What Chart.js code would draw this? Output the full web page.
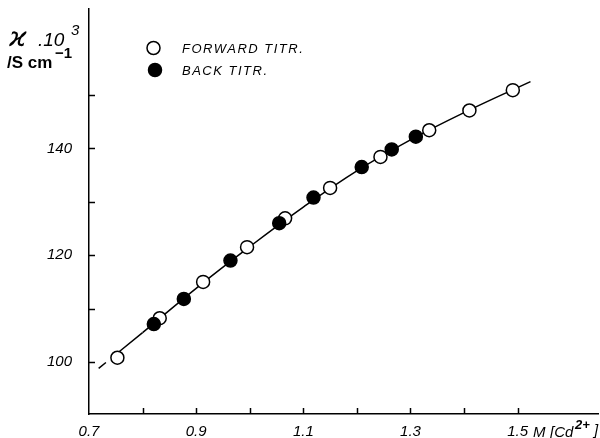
<!DOCTYPE html>
<html>
<head>
<meta charset="utf-8">
<script src="https://cdn.jsdelivr.net/npm/chart.js@4"></script>
<style>
    html, body { margin: 0; padding: 0; background: #fff; }
    #wrap { width: 600px; height: 438px; }
</style>
</head>
<body>
<div id="wrap"><canvas id="titr_chart"></canvas></div>
<script>
// conductivity (x10^3 S/cm) vs Cd2+ concentration (M)
var forwardX = [0.753, 0.832, 0.913, 0.995, 1.066, 1.150, 1.244, 1.335, 1.410, 1.491];
var forwardY = [100.8, 108.2, 115.0, 121.5, 126.9, 132.6, 138.4, 143.4, 147.1, 150.9];
var backX = [0.821, 0.877, 0.964, 1.055, 1.119, 1.209, 1.265, 1.310];
var backY = [107.1, 111.8, 119.0, 126.0, 130.8, 136.5, 139.8, 142.2];
// drawn curve
var curveX = [0.718, 0.80, 0.90, 1.00, 1.10, 1.20, 1.30, 1.40, 1.524];
var curveY = [98.8, 105.5, 113.8, 121.6, 129.0, 135.8, 141.6, 146.7, 152.5];
var xMin = 0.7, xMax = 1.650, yMin = 90.26, yMax = 166.1;
var xLabelled = [0.7, 0.9, 1.1, 1.3, 1.5];
var yLabelled = [100, 120, 140];

function pts(xs, ys) {
    return xs.map(function (x, i) { return { x: x, y: ys[i] }; });
}

var labelFont = { family: 'Liberation Sans', size: 15, style: 'italic' };

var decorations = {
    id: 'decorations',
    afterDraw: function (chart) {
        var ctx = chart.ctx, xs = chart.scales.x, ys = chart.scales.y;
        ctx.save();
        ctx.strokeStyle = '#000';
        ctx.lineWidth = 1.5;
        // inward tick marks
        xs.ticks.forEach(function (t) {
            if (t.value <= xMin + 1e-6) return;
            var px = Math.round(xs.getPixelForValue(t.value)) + 0.5;
            ctx.beginPath(); ctx.moveTo(px, xs.top); ctx.lineTo(px, xs.top - 6); ctx.stroke();
        });
        ys.ticks.forEach(function (t) {
            var py = Math.round(ys.getPixelForValue(t.value)) + 0.5;
            ctx.beginPath(); ctx.moveTo(ys.right, py); ctx.lineTo(ys.right + 6, py); ctx.stroke();
        });

        ctx.fillStyle = '#000';
        ctx.textBaseline = 'alphabetic';
        ctx.textAlign = 'left';
        ctx.letterSpacing = '0px';
        // y title
        ctx.font = 'italic 27px "DejaVu Sans"';
        ctx.fillText('ϰ', 9, 46);
        ctx.font = 'italic 19px "Liberation Sans"';
        ctx.fillText('.10', 38, 46);
        ctx.font = 'italic 15px "Liberation Sans"';
        ctx.fillText('3', 71, 35);
        ctx.font = 'bold 17px "Liberation Sans"';
        ctx.fillText('/S cm', 7, 68);
        ctx.font = 'bold 15px "Liberation Sans"';
        ctx.fillText('−1', 55, 58);

        // x unit
        ctx.font = 'italic 15px "Liberation Sans"';
        ctx.fillText('M', 533, 437);
        ctx.fillText('[Cd', 550, 437);
        ctx.font = 'italic bold 13px "Liberation Sans"';
        ctx.fillText('2+', 575, 429);
        ctx.font = 'italic 15px "Liberation Sans"';
        ctx.fillText(']', 594, 435);

        // legend
        var ds = chart.data.datasets;
        var rows = [[ds[0], 153.5, 48], [ds[1], 155, 70]];
        ctx.font = 'italic 13px "Liberation Sans"';
        ctx.letterSpacing = '1.5px';
        ctx.textBaseline = 'middle';
        rows.forEach(function (r) {
            ctx.beginPath();
            ctx.arc(r[1], r[2], 6.5, 0, Math.PI * 2);
            ctx.fillStyle = r[0].pointBackgroundColor;
            ctx.fill();
            ctx.lineWidth = 1.5;
            ctx.strokeStyle = '#000';
            ctx.stroke();
            ctx.fillStyle = '#000';
            ctx.fillText(r[0].label, 182, r[2] + 1);
        });
        ctx.restore();
    }
};

new Chart(document.getElementById('titr_chart').getContext('2d'), {
    type: 'scatter',
    data: {
        datasets: [{
            label: 'FORWARD TITR.',
            data: pts(forwardX, forwardY),
            pointRadius: 6.5,
            pointBackgroundColor: '#fff',
            pointBorderColor: '#000',
            pointBorderWidth: 1.5,
            order: 1
        }, {
            label: 'BACK TITR.',
            data: pts(backX, backY),
            pointRadius: 6.5,
            pointBackgroundColor: '#000',
            pointBorderColor: '#000',
            pointBorderWidth: 1.5,
            order: 0
        }, {
            label: 'fit',
            data: pts(curveX, curveY),
            showLine: true,
            pointRadius: 0,
            borderColor: '#000',
            borderWidth: 1.5,
            tension: 0.4,
            segment: {
                // short dash, small gap, then solid
                borderDash: function (c) { return c.p0DataIndex === 0 ? [9, 8, 400, 1] : undefined; }
            },
            order: 2
        }]
    },
    options: {
        responsive: true,
        maintainAspectRatio: false,
        animation: false,
        layout: { autoPadding: false, padding: { top: 9, right: 2, left: 0, bottom: 0 } },
        plugins: {
            legend: { display: false },
            tooltip: { enabled: false }
        },
        scales: {
            x: {
                type: 'linear',
                min: xMin,
                max: xMax,
                afterFit: function (s) { s.height = 24; s.paddingLeft = 0; s.paddingRight = 0; },
                afterBuildTicks: function (s) {
                    s.ticks = s.ticks.filter(function (t) { return t.value < 1.55; });
                },
                grid: { drawOnChartArea: false, drawTicks: false },
                border: { display: true, color: '#000', width: 1.5 },
                ticks: {
                    stepSize: 0.1,
                    color: '#000',
                    font: labelFont,
                    padding: 9,
                    maxRotation: 0,
                    autoSkip: false,
                    callback: function (v) {
                        var r = Math.round(v * 10) / 10;
                        return xLabelled.indexOf(r) >= 0 ? r.toFixed(1) : '';
                    }
                }
            },
            y: {
                type: 'linear',
                min: yMin,
                max: yMax,
                afterFit: function (s) { s.width = 89; s.paddingTop = 0; s.paddingBottom = 0; },
                afterBuildTicks: function (s) {
                    s.ticks = s.ticks.filter(function (t) {
                        return t.value >= 100 && t.value <= 150 && Math.abs(t.value % 10) < 1e-6;
                    });
                },
                grid: { drawOnChartArea: false, drawTicks: false },
                border: { display: true, color: '#000', width: 1.5 },
                ticks: {
                    stepSize: 10,
                    color: '#000',
                    font: labelFont,
                    padding: 17,
                    autoSkip: false,
                    callback: function (v) {
                        return yLabelled.indexOf(Math.round(v)) >= 0 ? String(Math.round(v)) : '';
                    }
                }
            }
        }
    },
    plugins: [decorations]
});
</script>
</body>
</html>
